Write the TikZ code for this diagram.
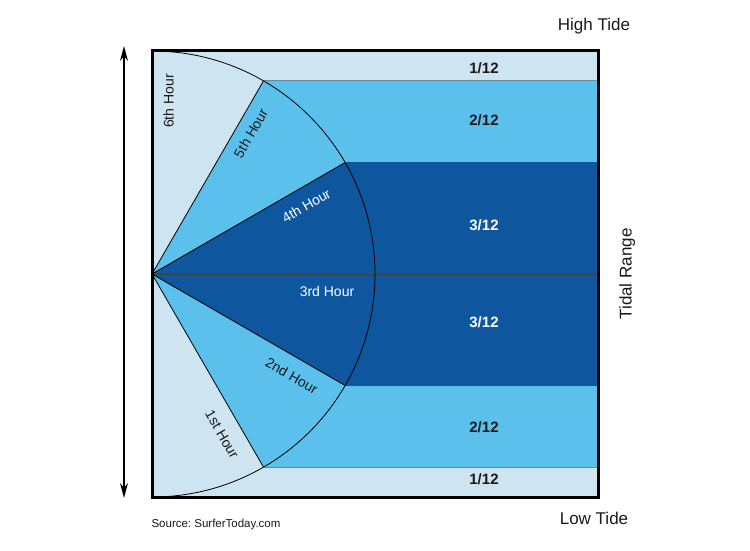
\documentclass[tikz,border=0pt]{standalone}
\usepackage{fontspec}
\setmainfont{Liberation Sans}
\usetikzlibrary{arrows.meta}
\frenchspacing
\definecolor{tlight}{HTML}{CFE4F1}
\definecolor{tmed}{HTML}{5BC0EC}
\definecolor{tdark}{HTML}{0E579E}
\definecolor{tsep}{HTML}{6A8AA0}
\definecolor{ttext}{HTML}{1A1A1A}
\tikzset{
  hourlbl/.style={font=\fontsize{14}{16}\selectfont, text height=0.72em, text depth=0pt, inner sep=0pt, text=ttext},
  bandlbl/.style={font=\bfseries\fontsize{15}{17}\selectfont, text height=0.72em, text depth=0pt, inner sep=0pt, text=ttext},
  tidelbl/.style={font=\fontsize{17}{19}\selectfont, text height=0.72em, text depth=0pt, inner sep=0pt, text=ttext},
  radial/.style={line width=0.8pt, black},
  sepline/.style={line width=0.9pt, tsep},
}
\begin{document}
\begin{tikzpicture}[x=1pt,y=1pt]
\useasboundingbox (0,0) rectangle (750,550);
\fill[white] (0,0) rectangle (750,550);
\def\R{223}
\coordinate (C) at (152,276);
% points on the arc
\path (C) ++(90:\R) coordinate (A90);
\path (C) ++(60:\R) coordinate (A60);
\path (C) ++(30:\R) coordinate (A30);
\path (C) ++(-30:\R) coordinate (Am30);
\path (C) ++(-60:\R) coordinate (Am60);
\path (C) ++(-90:\R) coordinate (Am90);
\coordinate (BL) at (152,53);
\coordinate (TR) at (598,499);
\coordinate (R0) at (598,276);
% light background
\fill[tlight] (BL) rectangle (TR);
% medium
\fill[tmed] (C) -- (Am60) arc[start angle=-60, end angle=60, radius=\R] -- cycle;
\fill[tmed] (Am60) rectangle (A60 -| TR);
% dark
\fill[tdark] (C) -- (Am30) arc[start angle=-30, end angle=30, radius=\R] -- cycle;
\fill[tdark] (Am30) rectangle (A30 -| TR);
% separators
\draw[sepline] (A60) -- (A60 -| TR);
\draw[sepline] (Am60) -- (Am60 -| TR);
\draw[line width=0.8pt, black!75] (C) -- (R0);
% radial lines and arc
\draw[radial] (C) -- (A60);
\draw[radial] (C) -- (A30);
\draw[radial] (C) -- (Am30);
\draw[radial] (C) -- (Am60);
\draw[radial] (A90) arc[start angle=90, end angle=-90, radius=\R];
% frame
\draw[line width=3pt, black] (BL) rectangle (TR);
% arrow
\coordinate (ArT) at (124,504);
\coordinate (ArB) at (124,52);
\draw[line width=1.4pt, {Stealth[length=15pt,width=8pt]}-{Stealth[length=15pt,width=8pt]}] (ArB) -- (ArT);
% hour labels
\node[hourlbl, rotate=90] (h6) at (170,449) {6th Hour};
\node[hourlbl, rotate=60] (h5) at (252,416) {5th Hour};
\node[hourlbl, rotate=30, text=white] (h4) at (307,343) {4th Hour};
\node[hourlbl, text=white] (h3) at (327,257) {3rd Hour};
\node[hourlbl, rotate=-30] (h2) at (291,173) {2nd Hour};
\node[hourlbl, rotate=-60] (h1) at (221,115) {1st Hour};
% band labels
\node[bandlbl] (b1) at (484,480) {1/12};
\node[bandlbl] (b2) at (484,428.5) {2/12};
\node[bandlbl, text=white] (b3) at (484,323) {3/12};
\node[bandlbl, text=white] (b4) at (484,226) {3/12};
\node[bandlbl] (b5) at (484,121) {2/12};
\node[bandlbl] (b6) at (484,69) {1/12};
% tide labels
\node[tidelbl] (high) at (594,523) {High Tide};
\node[tidelbl] (low) at (594,29) {Low Tide};
\node[tidelbl, rotate=90] (range) at (628,276) {Tidal Range};
\node[font=\fontsize{11.5}{13}\selectfont, text height=0.72em, text depth=0pt, inner sep=0pt, text=ttext] (src) at (216,26) {Source: SurferToday.com};
\end{tikzpicture}
\end{document}
